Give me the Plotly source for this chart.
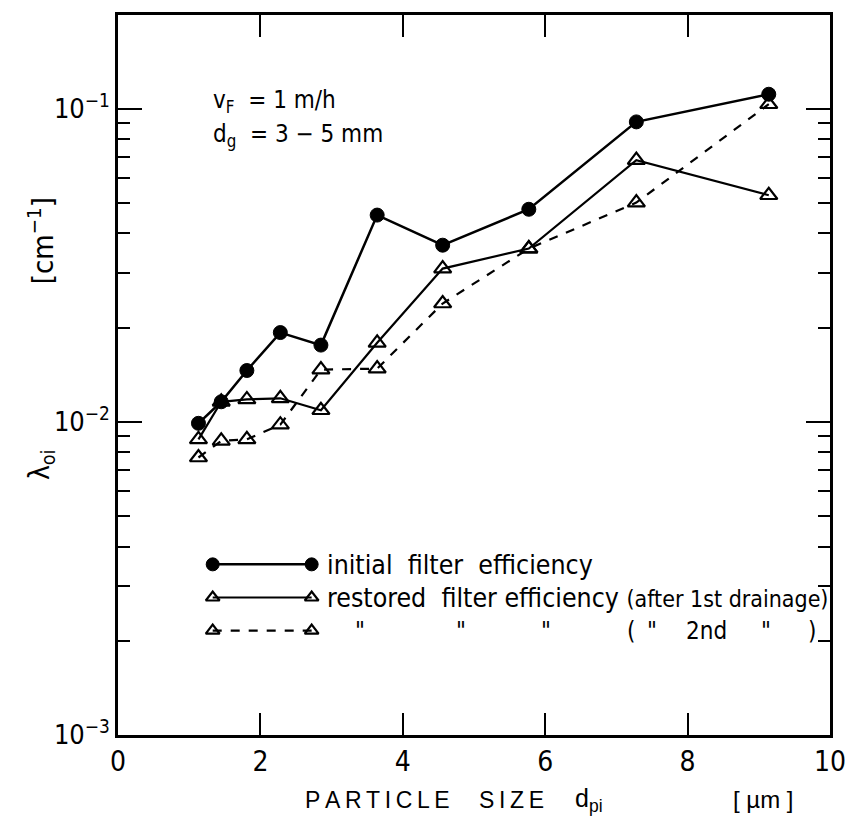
import plotly.graph_objects as go

# Particle size classes [µm] and filter coefficients λ_oi [cm^-1]
particle_size = [1.13, 1.45, 1.81, 2.28, 2.85, 3.64, 4.56, 5.77, 7.28, 9.14]
initial_eff = [0.0099, 0.0116, 0.0146, 0.0193, 0.0176, 0.0458, 0.0367, 0.0478, 0.0909, 0.1114]
restored_1st = [0.0088, 0.0116, 0.0118, 0.0119, 0.0109, 0.0179, 0.0309, 0.0358, 0.0686, 0.0530]
restored_2nd = [0.0077, 0.0087, 0.0088, 0.0098, 0.0147, 0.0148, 0.0239, 0.0358, 0.0502, 0.1035]

x_ticks = [0, 2, 4, 6, 8, 10]
y_ticks = [1e-3, 1e-2, 1e-1]
y_tick_labels = ["10<sup>−3</sup>", "10<sup>−2</sup>", "10<sup>−1</sup>"]

NARROW = "Liberation Sans Narrow, DejaVu Sans Condensed, Arial Narrow, sans-serif"
WIDE = "Liberation Sans, Arial, sans-serif"
INK = "black"

circle = dict(symbol="circle", size=14, color=INK, line=dict(color=INK, width=1))
triangle = dict(symbol="triangle-up-open", size=15, color=INK, line=dict(color=INK, width=2.2))

fig = go.Figure()
fig.add_trace(go.Scatter(x=particle_size, y=initial_eff, mode="lines+markers",
                         line=dict(color=INK, width=2.5), marker=circle))
fig.add_trace(go.Scatter(x=particle_size, y=restored_1st, mode="lines+markers",
                         line=dict(color=INK, width=2.2), marker=triangle))
fig.add_trace(go.Scatter(x=particle_size, y=restored_2nd, mode="lines+markers",
                         line=dict(color=INK, width=2.2, dash="dash"), marker=triangle))

# Key samples: a segment with a symbol at each end, drawn on a hidden 0..1 overlay
key_rows = [0.237, 0.191, 0.145]
key_x0, key_x1 = 0.133, 0.272
key_styles = [
    (dict(color=INK, width=2.5), dict(circle, size=13)),
    (dict(color=INK, width=2.2), dict(triangle, size=12)),
    (dict(color=INK, width=2.2, dash="dash"), dict(triangle, size=12)),
]
for ky, (ln, mk) in zip(key_rows, key_styles):
    fig.add_trace(go.Scatter(x=[key_x0, key_x1], y=[ky, ky], mode="lines+markers",
                             line=ln, marker=mk, xaxis="x2", yaxis="y2",
                             hoverinfo="skip"))

ann = []
def text(x, y, s, size=22, family=NARROW, xanchor="left", angle=0):
    ann.append(dict(x=x, y=y, xref="paper", yref="paper", text=s, showarrow=False,
                    xanchor=xanchor, yanchor="middle", textangle=angle,
                    font=dict(family=family, size=size, color=INK)))

text(0.291, key_rows[0], "initial  filter  efficiency", size=26.5)
text(0.291, key_rows[1],
     "restored  filter efficiency <span style='font-size:23px'>(after 1st drainage)</span>",
     size=26.5)
for xp, s in [(0.340, "\""), (0.482, "\""), (0.601, "\""), (0.720, "("),
              (0.750, "\""), (0.826, "2nd"), (0.910, "\""), (0.975, ")")]:
    text(xp, key_rows[2], s, size=24, xanchor="center")

text(0.130, 0.880, "v<sub>F</sub>  = 1 m/h", size=24)
text(0.130, 0.833, "d<sub>g</sub>  = 3 − 5 mm", size=24)

text(-0.108, 0.686, "[cm<sup>−1</sup>]", size=29, xanchor="center", angle=-90)
text(-0.108, 0.375, "λ<sub>oi</sub>", size=28, xanchor="center", angle=-90)
text(0.431, -0.09, "P\u2009A\u2009R\u2009T\u2009I\u2009C\u2009L\u2009E\u2003 S\u2009I\u2009Z\u2009E",
     size=23, family=WIDE, xanchor="center")
text(0.662, -0.09, "d<sub>pi</sub>", size=25, family=WIDE, xanchor="center")
text(0.907, -0.09, "[ µm ]", size=24, family=WIDE, xanchor="center")

axis_common = dict(showgrid=False, zeroline=False, showline=True, linecolor=INK,
                   linewidth=2.5, mirror="allticks", ticks="inside", tickcolor=INK,
                   tickwidth=2, ticklabeloverflow="allow")

fig.update_layout(
    width=858, height=826,
    margin=dict(l=118, r=16, t=12, b=91),
    paper_bgcolor="white", plot_bgcolor="white",
    showlegend=False,
    annotations=ann,
    xaxis=dict(axis_common, range=[0, 10], tickvals=x_ticks, ticklen=22,
               tickfont=dict(family=NARROW, size=28, color=INK)),
    yaxis=dict(axis_common, type="log", range=[-3, -0.70], tickvals=y_ticks,
               ticktext=y_tick_labels, ticklen=24,
               tickfont=dict(family=NARROW, size=27, color=INK),
               minor=dict(ticks="inside", ticklen=12, dtick="D1", tickwidth=2,
                          tickcolor=INK, showgrid=False)),
    xaxis2=dict(overlaying="x", range=[0, 1], visible=False),
    yaxis2=dict(overlaying="y", range=[0, 1], visible=False),
)

fig.write_html("out.html")
